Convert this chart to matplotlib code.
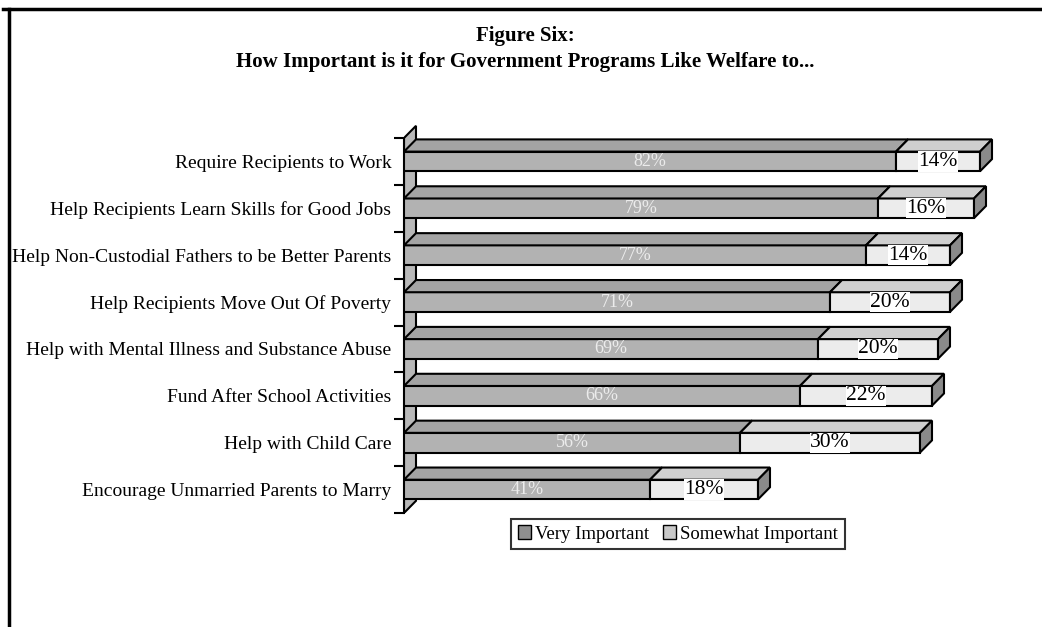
import matplotlib.pyplot as plt
from matplotlib.patches import Polygon, Patch
from matplotlib.lines import Line2D

categories = [
    "Require Recipients to Work",
    "Help Recipients Learn Skills for Good Jobs",
    "Help Non-Custodial Fathers to be Better Parents",
    "Help Recipients Move Out Of Poverty",
    "Help with Mental Illness and Substance Abuse",
    "Fund After School Activities",
    "Help with Child Care",
    "Encourage Unmarried Parents to Marry",
]
very_important = [82, 79, 77, 71, 69, 66, 56, 41]
somewhat_important = [14, 16, 14, 20, 20, 22, 30, 18]

plt.rcParams['font.family'] = ['Liberation Serif', 'DejaVu Serif']

W, H = 1042, 627
fig = plt.figure(figsize=(W / 100, H / 100), dpi=100)

# axes placed so that 0% sits on the wall front and 1% = 6 px
top_extra = 0.35
row_px = (513 - 138) / 8
ax_top_px = 138 - top_extra * row_px
ax = fig.add_axes([404 / W, 1 - 513 / H, 600 / W, (513 - ax_top_px) / H])
n = len(categories)
ax.set_xlim(0, 100)
ax.set_ylim(-0.5, n - 0.5 + top_extra)

dx = 2.0     # depth in % units
dy = 0.26    # depth in row units
h = 0.42     # front face height

c_vi_front, c_vi_top = '#b2b2b2', '#a4a4a4'
c_sw_front, c_sw_top = '#ececec', '#cfcfcf'
c_side = '#8a8a8a'
c_wall = '#b8b8b8'

# left wall
y0, y1 = -0.5, n - 0.5
ax.add_patch(Polygon([(0, y0), (0, y1), (dx, y1 + dy), (dx, y0 + dy)],
                     closed=True, facecolor=c_wall, edgecolor='black', lw=1.5, zorder=1))

for i, (cat, v, s) in enumerate(zip(categories, very_important, somewhat_important)):
    y = n - 1 - i
    yb, yt = y - h / 2, y + h / 2
    segs = [(0, v, c_vi_front, c_vi_top), (v, v + s, c_sw_front, c_sw_top)]
    for left, right, cf, ct in segs:
        ax.add_patch(Polygon([(left, yb), (right, yb), (right, yt), (left, yt)],
                             closed=True, facecolor=cf, edgecolor='black', lw=1.5, zorder=3))
        ax.add_patch(Polygon([(left, yt), (left + dx, yt + dy), (right + dx, yt + dy), (right, yt)],
                             closed=True, facecolor=ct, edgecolor='black', lw=1.5, zorder=3))
    tot = v + s
    ax.add_patch(Polygon([(tot, yb), (tot + dx, yb + dy), (tot + dx, yt + dy), (tot, yt)],
                         closed=True, facecolor=c_side, edgecolor='black', lw=1.5, zorder=3))
    ax.text(v / 2, y, f"{v}%", ha='center', va='center', fontsize=13,
            color='#ececec', zorder=4)
    ax.text(v + s / 2, y, f"{s}%", ha='center', va='center', fontsize=15.5,
            color='black', zorder=4,
            bbox=dict(facecolor='white', edgecolor='none', pad=0.5))

ax.set_yticks(range(n))
ax.set_yticklabels(categories[::-1], fontsize=14)
ax.set_yticks([k - 0.5 for k in range(n + 1)], minor=True)
ax.tick_params(axis='y', which='major', length=0, pad=9)
ax.tick_params(axis='y', which='minor', length=7, width=1.5)
ax.set_xticks([])
for side in ['top', 'right', 'bottom']:
    ax.spines[side].set_visible(False)
ax.spines['left'].set_bounds(y0, y1)
ax.spines['left'].set_linewidth(1.5)

fig.text(0.5 * (8 + W) / W, 1 - 36 / H, "Figure Six:", ha='center', va='center',
         fontsize=15, fontweight='bold')
fig.text(0.5 * (8 + W) / W, 1 - 62 / H,
         "How Important is it for Government Programs Like Welfare to...",
         ha='center', va='center', fontsize=15, fontweight='bold')

handles = [Patch(facecolor='#909090', edgecolor='black', label='Very Important'),
           Patch(facecolor='#c8c8c8', edgecolor='black', label='Somewhat Important')]
leg = fig.legend(handles=handles, loc='center', bbox_to_anchor=(678 / W, 1 - 534 / H),
                 ncol=2, fontsize=13.5, frameon=True, fancybox=False, handlelength=0.7,
                 handleheight=0.7, handletextpad=0.25, columnspacing=0.7, borderpad=0.35)
leg.get_frame().set_edgecolor('black')
leg.get_frame().set_linewidth(1.5)

# page border
fig.add_artist(Line2D([3 / W, 1], [1 - 9 / H, 1 - 9 / H], color='black', lw=2.5))
fig.add_artist(Line2D([9 / W, 9 / W], [1 - 9 / H, 0], color='black', lw=2.5))

fig.savefig('out.png', dpi=100)
